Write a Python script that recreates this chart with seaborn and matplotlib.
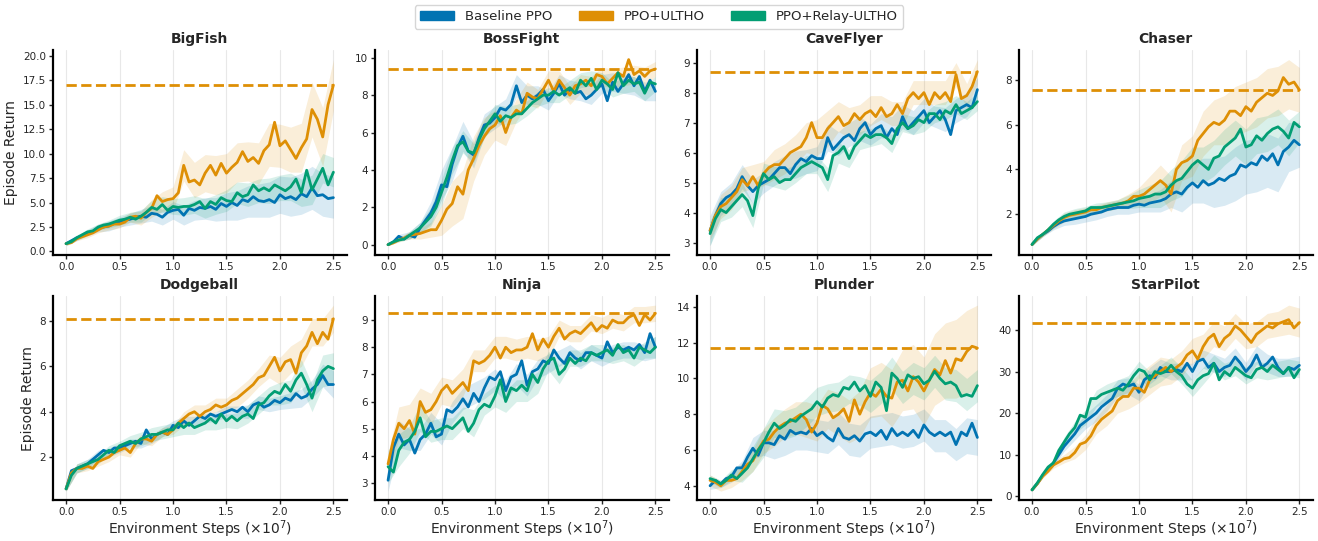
import numpy as np
import matplotlib
matplotlib.use("Agg")
import matplotlib.pyplot as plt
from matplotlib.patches import Patch
import seaborn as sns

# x grid (x1e7 env steps) for the mean curves, and a coarser one for the std bands
steps = np.round(np.arange(0, 2.5001, 0.05), 2)
band_steps = steps[::2]

games = ["BigFish", "BossFight", "CaveFlyer", "Chaser",
         "Dodgeball", "Ninja", "Plunder", "StarPilot"]
methods = ["Baseline PPO", "PPO+ULTHO", "PPO+Relay-ULTHO"]

# ---- BigFish
bigfish_ppo = [0.8, 1.1, 1.4, 1.6, 1.9, 2.0, 2.4, 2.5, 2.6, 2.9, 3.0, 3.2, 3.3, 3.5, 3.6, 3.5, 3.9, 3.8, 3.5, 4.0,
               4.2, 4.3, 3.7, 4.4, 4.2, 4.5, 4.4, 4.6, 4.3, 4.9, 4.6, 5.0, 4.7, 5.3, 5.1, 5.6, 5.2, 5.1, 5.3, 5.0,
               5.8, 5.4, 5.6, 5.3, 5.9, 5.6, 6.5, 5.7, 5.8, 5.4, 5.5]
bigfish_ultho = [0.8, 0.9, 1.3, 1.5, 1.7, 1.9, 2.2, 2.5, 2.6, 2.8, 2.8, 3.0, 3.5, 3.6, 3.4, 4.0, 4.4, 5.7, 5.1, 5.3,
                 5.4, 6.0, 8.8, 7.1, 7.3, 6.8, 8.0, 8.8, 7.8, 9.0, 8.0, 8.6, 9.1, 10.2, 9.2, 9.6, 9.0, 10.3, 10.9, 13.2,
                 10.8, 11.3, 10.4, 9.5, 10.6, 11.5, 14.5, 13.5, 11.7, 15.0, 17.0]
bigfish_relay = [0.8, 1.0, 1.4, 1.7, 2.0, 2.1, 2.5, 2.7, 2.8, 3.0, 3.2, 3.3, 3.5, 3.3, 3.6, 4.0, 4.5, 4.3, 4.8, 4.2,
                 4.6, 4.5, 4.6, 4.6, 4.8, 5.1, 4.4, 5.1, 4.8, 5.5, 5.2, 5.1, 6.0, 5.6, 5.8, 6.8, 6.2, 6.5, 6.2, 6.8,
                 6.5, 6.2, 6.6, 7.4, 6.0, 8.3, 6.3, 7.4, 8.5, 6.8, 8.1]
bigfish_ppo_sd = [0.2, 0.3, 0.3, 0.4, 0.5, 0.5, 0.6, 0.7, 0.8, 0.8, 0.9, 1.0, 1.0, 1.1, 1.2, 1.4, 1.5, 1.6, 1.7, 1.8,
                  1.9, 2.0, 2.1, 2.2, 2.2, 2.1]
bigfish_ultho_sd = [0.2, 0.2, 0.3, 0.3, 0.4, 0.4, 0.5, 0.7, 0.9, 1.0, 1.2, 1.6, 1.8, 1.9, 2.0, 2.0, 2.0, 2.0, 2.1, 2.2,
                    2.2, 2.3, 2.5, 2.8, 3.0, 2.6]
bigfish_relay_sd = [0.2, 0.2, 0.3, 0.3, 0.4, 0.5, 0.5, 0.6, 0.7, 0.8, 0.8, 0.9, 0.9, 1.0, 1.0, 1.1, 1.1, 1.2, 1.2, 1.3,
                    1.3, 1.4, 1.4, 1.5, 1.5, 1.5]

# ---- BossFight
bossfight_ppo = [0.0, 0.15, 0.45, 0.3, 0.5, 0.4, 0.9, 1.3, 1.7, 2.3, 3.2, 3.1, 4.3, 5.2, 5.8, 5.0, 4.8, 5.7, 6.4, 6.5,
                 6.8, 7.3, 7.2, 7.5, 8.5, 7.6, 8.0, 7.8, 8.0, 8.3, 7.7, 8.1, 8.6, 8.0, 8.3, 8.1, 8.2, 7.8, 8.0, 8.3,
                 8.6, 7.7, 8.7, 8.2, 8.6, 9.1, 8.5, 9.0, 8.2, 8.8, 8.2]
bossfight_ultho = [0.0, 0.1, 0.25, 0.35, 0.5, 0.55, 0.6, 0.7, 0.8, 0.8, 1.3, 1.9, 2.2, 3.1, 2.7, 4.0, 4.6, 5.3, 5.8, 6.2,
                   6.4, 6.9, 6.0, 6.8, 7.2, 7.0, 8.1, 7.9, 7.8, 8.3, 8.8, 8.2, 8.8, 8.4, 8.0, 8.5, 8.6, 8.8, 8.5, 9.1,
                   9.0, 8.6, 8.9, 9.2, 9.0, 9.9, 9.1, 9.3, 9.0, 9.3, 9.4]
bossfight_relay = [0.0, 0.15, 0.25, 0.3, 0.5, 0.7, 0.9, 1.2, 1.5, 2.0, 2.8, 3.6, 4.5, 5.3, 5.5, 5.0, 4.9, 5.6, 6.2, 6.6,
                   7.0, 6.6, 6.9, 6.8, 7.0, 7.0, 7.3, 7.6, 7.8, 8.0, 8.0, 8.2, 8.0, 8.2, 8.4, 8.1, 8.8, 8.5, 8.9, 8.3,
                   8.8, 8.6, 8.3, 9.2, 8.5, 8.8, 8.6, 8.7, 8.1, 8.7, 8.6]
bossfight_ppo_sd = [0.05, 0.1, 0.2, 0.3, 0.6, 0.8, 0.9, 0.8, 0.7, 0.6, 0.6, 0.6, 0.6, 0.5, 0.5, 0.5, 0.5, 0.5, 0.5, 0.5,
                    0.5, 0.5, 0.5, 0.5, 0.5, 0.5]
bossfight_ultho_sd = [0.05, 0.1, 0.2, 0.3, 0.4, 0.8, 1.2, 1.3, 1.2, 1.0, 0.8, 0.7, 0.6, 0.6, 0.5, 0.5, 0.5, 0.5, 0.5, 0.5,
                      0.5, 0.5, 0.5, 0.5, 0.5, 0.4]
bossfight_relay_sd = [0.05, 0.1, 0.2, 0.3, 0.5, 0.7, 0.7, 0.6, 0.5, 0.5, 0.5, 0.5, 0.5, 0.4, 0.4, 0.4, 0.4, 0.4, 0.4, 0.4,
                      0.4, 0.4, 0.4, 0.4, 0.4, 0.4]

# ---- CaveFlyer
caveflyer_ppo = [3.4, 3.9, 4.3, 4.5, 4.6, 4.8, 5.2, 4.9, 4.7, 4.9, 5.0, 5.1, 5.3, 5.5, 5.5, 5.3, 5.6, 5.8, 5.7, 5.9,
                 5.8, 5.8, 6.5, 6.1, 6.3, 6.5, 6.6, 6.4, 6.8, 7.0, 6.6, 6.8, 6.9, 6.5, 6.8, 6.6, 7.2, 6.8, 7.0, 7.2,
                 7.4, 7.0, 7.2, 7.4, 7.1, 6.6, 7.4, 7.5, 7.6, 7.5, 8.1]
caveflyer_ultho = [3.4, 3.9, 4.2, 4.3, 4.5, 4.7, 5.1, 4.9, 5.2, 4.9, 5.3, 5.5, 5.6, 5.6, 5.8, 6.0, 6.1, 6.2, 6.5, 7.0,
                   6.5, 6.5, 6.8, 7.0, 7.2, 6.9, 7.0, 7.3, 7.1, 7.3, 7.4, 7.2, 7.5, 7.2, 7.3, 7.6, 7.3, 7.8, 8.0, 7.8,
                   8.0, 7.6, 8.0, 7.8, 8.0, 7.7, 8.6, 7.8, 7.9, 8.2, 8.7]
caveflyer_relay = [3.3, 3.8, 4.1, 4.0, 4.2, 4.4, 4.6, 4.4, 3.9, 4.8, 5.3, 5.1, 5.2, 5.0, 5.1, 5.1, 5.3, 5.5, 5.6, 5.7,
                   5.6, 5.5, 5.1, 5.9, 6.0, 6.2, 5.8, 6.2, 6.4, 6.6, 6.5, 6.6, 6.6, 6.5, 6.3, 6.8, 7.0, 6.8, 6.9, 7.1,
                   7.0, 7.3, 7.3, 7.1, 7.4, 7.3, 7.6, 7.3, 7.4, 7.5, 7.7]
caveflyer_ppo_sd = [0.5, 0.4, 0.4, 0.4, 0.4, 0.35, 0.4, 0.4, 0.45, 0.4, 0.4, 0.45, 0.4, 0.4, 0.4, 0.35, 0.4, 0.4, 0.4,
                    0.4, 0.4, 0.35, 0.4, 0.4, 0.4, 0.4]
caveflyer_ultho_sd = [0.3, 0.4, 0.4, 0.4, 0.4, 0.4, 0.5, 0.5, 0.5, 0.5, 0.6, 0.6, 0.5, 0.5, 0.5, 0.5, 0.4, 0.4, 0.4,
                      0.4, 0.4, 0.4, 0.4, 0.4, 0.4, 0.4]
caveflyer_relay_sd = [0.4, 0.4, 0.35, 0.4, 0.4, 0.35, 0.35, 0.35, 0.3, 0.3, 0.3, 0.4, 0.35, 0.3, 0.3, 0.3, 0.3, 0.3,
                      0.3, 0.3, 0.3, 0.3, 0.3, 0.3, 0.3, 0.3]

# ---- Chaser
chaser_ppo = [0.65, 0.9, 1.1, 1.25, 1.45, 1.6, 1.7, 1.75, 1.8, 1.85, 1.9, 2.0, 2.05, 2.1, 2.2, 2.25, 2.3, 2.3, 2.3, 2.4,
              2.45, 2.4, 2.5, 2.55, 2.6, 2.7, 2.9, 3.0, 2.9, 3.2, 3.4, 3.2, 3.5, 3.3, 3.4, 3.6, 3.5, 3.7, 3.8, 4.2,
              4.1, 4.3, 4.2, 4.6, 4.4, 4.7, 4.2, 4.8, 5.0, 5.3, 5.1]
chaser_ultho = [0.65, 0.9, 1.1, 1.3, 1.5, 1.7, 1.85, 1.95, 2.0, 2.05, 2.1, 2.2, 2.2, 2.3, 2.35, 2.4, 2.45, 2.5, 2.6, 2.8,
                2.8, 2.9, 3.1, 3.3, 3.5, 3.3, 2.9, 4.0, 4.3, 4.4, 4.6, 5.3, 5.6, 5.9, 6.1, 6.0, 6.2, 6.6, 6.6, 6.4,
                6.8, 6.6, 7.0, 7.2, 7.4, 7.3, 7.5, 8.1, 7.8, 7.9, 7.55]
chaser_relay = [0.65, 0.95, 1.1, 1.3, 1.55, 1.75, 1.9, 2.0, 2.05, 2.1, 2.15, 2.3, 2.3, 2.3, 2.35, 2.4, 2.45, 2.5, 2.55,
                2.6, 2.7, 2.75, 2.8, 2.9, 2.9, 3.0, 3.3, 3.5, 3.6, 3.9, 4.2, 4.4, 4.2, 4.0, 4.5, 4.6, 5.0, 5.2, 5.4,
                5.8, 5.0, 5.1, 5.5, 5.3, 5.6, 5.8, 5.9, 5.7, 5.4, 6.1, 5.9]
chaser_ppo_sd = [0.05, 0.1, 0.15, 0.2, 0.25, 0.25, 0.3, 0.3, 0.3, 0.3, 0.35, 0.4, 0.5, 0.6, 0.8, 0.9, 1.0, 1.1, 1.1,
                 1.2, 1.2, 1.2, 1.2, 1.2, 1.1, 1.0]
chaser_ultho_sd = [0.05, 0.1, 0.15, 0.2, 0.2, 0.2, 0.2, 0.2, 0.2, 0.3, 0.4, 0.6, 0.7, 0.8, 0.8, 0.9, 1.0, 1.0, 1.1,
                   1.1, 1.1, 1.1, 1.1, 1.1, 1.1, 1.0]
chaser_relay_sd = [0.05, 0.1, 0.15, 0.2, 0.2, 0.2, 0.2, 0.2, 0.2, 0.3, 0.4, 0.5, 0.6, 0.7, 0.8, 0.8, 0.8, 0.8, 0.8,
                   0.8, 0.8, 0.8, 0.8, 0.8, 0.8, 0.7]

# ---- Dodgeball
dodgeball_ppo = [0.6, 1.4, 1.5, 1.6, 1.7, 1.9, 2.1, 2.3, 2.2, 2.4, 2.4, 2.5, 2.6, 2.7, 2.6, 3.2, 2.8, 3.0, 3.1, 3.0,
                 3.4, 3.3, 3.6, 3.4, 3.6, 3.8, 3.7, 3.9, 3.8, 3.9, 4.0, 4.1, 4.0, 4.2, 4.0, 4.3, 4.4, 4.2, 4.3, 4.5,
                 4.4, 4.6, 4.5, 4.8, 4.6, 4.7, 5.0, 5.2, 5.6, 5.2, 5.2]
dodgeball_ultho = [0.6, 1.3, 1.5, 1.5, 1.6, 1.5, 1.8, 1.9, 2.0, 2.2, 2.3, 2.4, 2.2, 2.6, 2.8, 2.8, 2.7, 3.0, 3.1, 3.0,
                   3.2, 3.5, 3.7, 3.9, 4.0, 3.8, 4.0, 4.1, 4.3, 4.2, 4.3, 4.5, 4.6, 4.8, 5.0, 5.2, 5.5, 5.6, 6.0, 6.4,
                   5.8, 6.2, 6.3, 5.7, 6.6, 6.9, 7.5, 7.0, 7.5, 7.2, 8.1]
dodgeball_relay = [0.6, 1.2, 1.5, 1.6, 1.7, 1.8, 1.9, 2.1, 2.3, 2.2, 2.5, 2.6, 2.7, 2.6, 2.8, 2.9, 3.0, 3.0, 3.1, 3.2,
                   3.2, 3.5, 3.3, 3.5, 3.3, 3.4, 3.5, 3.7, 3.5, 3.9, 3.6, 3.8, 3.6, 3.8, 3.9, 3.7, 4.3, 4.4, 4.7, 4.9,
                   4.8, 5.2, 4.9, 5.4, 5.7, 5.2, 4.6, 5.4, 5.8, 6.0, 5.9]
dodgeball_ppo_sd = [0.1, 0.2, 0.2, 0.2, 0.2, 0.2, 0.2, 0.2, 0.2, 0.2, 0.2, 0.2, 0.2, 0.2, 0.2, 0.25, 0.25, 0.3, 0.3,
                    0.3, 0.3, 0.35, 0.4, 0.4, 0.5, 0.6]
dodgeball_ultho_sd = [0.1, 0.2, 0.2, 0.2, 0.2, 0.2, 0.2, 0.2, 0.2, 0.2, 0.2, 0.3, 0.3, 0.3, 0.3, 0.3, 0.4, 0.4, 0.4,
                      0.5, 0.6, 0.6, 0.6, 0.6, 0.6, 0.6]
dodgeball_relay_sd = [0.1, 0.2, 0.2, 0.2, 0.2, 0.2, 0.25, 0.3, 0.3, 0.3, 0.3, 0.3, 0.3, 0.3, 0.3, 0.3, 0.35, 0.4, 0.4,
                      0.4, 0.5, 0.5, 0.6, 0.6, 0.7, 0.7]

# ---- Ninja
ninja_ppo = [3.1, 4.3, 4.8, 4.4, 4.6, 4.1, 4.6, 4.8, 5.2, 4.7, 4.8, 5.7, 5.6, 5.8, 6.1, 5.8, 6.3, 6.0, 6.5, 6.9,
             6.8, 7.1, 6.4, 6.9, 7.0, 7.5, 6.6, 7.1, 7.2, 7.5, 7.4, 7.9, 7.6, 7.4, 7.8, 7.6, 7.5, 7.8, 7.8, 7.7,
             7.6, 8.2, 7.8, 8.0, 7.9, 8.0, 7.9, 8.1, 7.8, 8.5, 8.0]
ninja_ultho = [3.7, 4.6, 5.2, 5.0, 5.3, 4.8, 6.0, 5.6, 5.7, 6.0, 6.4, 6.6, 6.3, 6.5, 6.7, 6.4, 7.5, 7.4, 7.5, 7.7,
               8.0, 7.6, 8.0, 7.8, 7.9, 7.9, 8.0, 8.5, 7.9, 8.3, 8.0, 8.4, 8.7, 8.3, 8.5, 8.6, 8.5, 8.7, 8.9, 8.6,
               8.8, 8.7, 9.0, 8.9, 8.9, 9.1, 9.2, 8.8, 9.2, 9.0, 9.25]
ninja_relay = [3.6, 3.4, 4.2, 4.5, 4.6, 4.9, 5.4, 4.7, 4.9, 4.9, 5.0, 5.1, 5.0, 5.2, 5.4, 4.9, 5.2, 5.7, 5.9, 5.8,
               6.2, 6.8, 6.0, 6.5, 6.4, 6.6, 6.4, 7.0, 6.7, 7.2, 7.5, 7.6, 7.0, 7.2, 7.6, 7.4, 7.6, 7.5, 7.8, 7.7,
               7.8, 7.9, 7.7, 8.1, 7.8, 7.9, 7.6, 8.0, 7.9, 7.8, 8.0]
ninja_ppo_sd = [0.4, 0.5, 0.4, 0.4, 0.4, 0.4, 0.4, 0.4, 0.4, 0.4, 0.4, 0.4, 0.4, 0.4, 0.35, 0.35, 0.3, 0.3, 0.3, 0.3,
                0.3, 0.3, 0.3, 0.3, 0.3, 0.4]
ninja_ultho_sd = [0.4, 0.6, 0.6, 0.5, 0.6, 0.5, 0.5, 0.5, 0.4, 0.4, 0.4, 0.4, 0.4, 0.4, 0.4, 0.4, 0.3, 0.3, 0.3, 0.3,
                  0.3, 0.3, 0.3, 0.3, 0.3, 0.3]
ninja_relay_sd = [0.6, 0.6, 0.5, 0.5, 0.4, 0.4, 0.4, 0.4, 0.5, 0.4, 0.4, 0.4, 0.4, 0.4, 0.4, 0.35, 0.35, 0.3, 0.3,
                  0.3, 0.3, 0.3, 0.3, 0.3, 0.3, 0.4]

# ---- Plunder
plunder_ppo = [4.0, 4.3, 4.1, 4.4, 4.5, 5.0, 5.0, 5.6, 6.1, 5.7, 6.4, 6.4, 6.3, 6.8, 6.6, 7.1, 6.9, 7.0, 6.9, 7.2,
               6.8, 7.0, 6.7, 6.5, 7.2, 6.7, 6.6, 6.8, 6.5, 6.9, 7.0, 6.8, 7.1, 6.6, 7.2, 6.8, 7.0, 6.8, 7.1, 6.7,
               7.4, 7.0, 6.8, 7.0, 6.8, 7.0, 6.3, 7.0, 6.8, 7.5, 6.7]
plunder_ultho = [4.3, 4.2, 4.0, 4.3, 4.3, 4.4, 4.8, 5.2, 5.4, 6.0, 6.5, 6.6, 7.0, 7.3, 7.5, 7.6, 7.8, 8.0, 7.7, 7.0,
                 7.5, 8.5, 8.3, 7.8, 8.0, 8.3, 7.6, 8.8, 8.0, 8.7, 9.2, 9.0, 9.4, 9.0, 8.9, 9.8, 9.9, 9.3, 10.1, 9.8,
                 9.3, 9.9, 10.5, 10.2, 11.0, 10.3, 11.1, 11.0, 11.5, 11.8, 11.7]
plunder_relay = [4.4, 4.3, 4.1, 4.3, 4.6, 4.4, 4.7, 5.0, 5.5, 6.0, 6.4, 7.0, 7.5, 7.2, 7.4, 7.7, 7.6, 7.9, 8.1, 8.3,
                 8.7, 8.4, 8.9, 9.1, 9.0, 9.5, 9.4, 9.8, 9.3, 9.6, 9.0, 9.8, 9.5, 8.2, 10.3, 10.0, 9.5, 10.2, 10.0, 10.1,
                 9.7, 9.9, 10.4, 10.0, 9.7, 9.8, 9.6, 9.0, 9.1, 9.0, 9.6]
plunder_ppo_sd = [0.2, 0.2, 0.3, 0.4, 0.6, 0.7, 0.8, 0.9, 0.9, 0.9, 0.9, 0.9, 0.9, 0.9, 0.9, 0.9, 0.9, 0.9, 0.9, 0.9,
                  0.9, 0.9, 0.9, 0.9, 1.0, 1.0]
plunder_ultho_sd = [0.3, 0.3, 0.4, 0.5, 0.6, 0.7, 0.8, 0.8, 0.9, 1.0, 1.0, 1.1, 1.2, 1.2, 1.3, 1.4, 1.5, 1.6, 1.7, 1.8,
                    1.9, 2.0, 2.1, 2.2, 2.3, 2.4]
plunder_relay_sd = [0.2, 0.2, 0.3, 0.5, 0.7, 0.8, 0.8, 0.8, 0.8, 0.8, 0.8, 0.8, 0.8, 0.8, 0.8, 0.9, 0.9, 0.9, 0.9,
                    0.9, 0.9, 0.9, 0.9, 0.9, 0.9, 0.9]

# ---- StarPilot
starpilot_ppo = [1.5, 3.0, 5.0, 6.5, 8.0, 10.0, 12.0, 13.5, 15.0, 17.0, 18.0, 19.0, 20.0, 21.5, 22.5, 23.5, 26.0, 27.0,
                 26.5, 27.0, 25.0, 28.0, 29.0, 28.5, 31.0, 30.0, 30.0, 30.5, 30.0, 32.0, 30.0, 32.5, 33.0, 31.0, 32.0,
                 30.0, 31.0, 31.5, 33.5, 32.0, 30.0, 31.5, 34.0, 31.0, 32.0, 33.5, 31.0, 29.5, 31.0, 30.5, 31.5]
starpilot_ultho = [1.5, 3.0, 4.8, 6.0, 7.5, 8.2, 9.0, 9.3, 10.5, 12.5, 13.0, 14.5, 17.0, 18.5, 19.5, 20.5, 23.0, 24.0,
                   24.0, 26.0, 26.0, 25.0, 28.0, 29.0, 30.0, 31.0, 30.0, 31.0, 32.0, 34.0, 35.0, 33.0, 36.0, 38.0, 39.0,
                   36.0, 38.0, 39.0, 41.0, 40.0, 38.5, 37.0, 39.0, 40.0, 41.0, 40.5, 41.5, 42.0, 42.5, 40.5, 41.8]
starpilot_relay = [1.5, 3.2, 5.2, 7.0, 8.0, 11.0, 13.0, 15.0, 16.5, 19.5, 19.0, 23.5, 23.5, 24.5, 25.0, 25.5, 26.0, 25.5,
                   27.0, 29.0, 30.5, 30.0, 28.0, 30.0, 29.5, 30.0, 31.5, 30.0, 29.0, 27.0, 26.0, 28.0, 29.0, 29.5, 32.0,
                   28.0, 30.0, 29.0, 31.0, 30.0, 29.0, 28.5, 30.5, 31.0, 30.0, 31.5, 30.5, 29.5, 31.0, 28.5, 30.5]
starpilot_ppo_sd = [0.3, 0.5, 0.8, 1.2, 1.5, 1.8, 2.0, 2.0, 2.0, 2.0, 2.0, 2.0, 2.0, 2.0, 2.0, 2.0, 2.2, 2.2, 2.2, 2.2,
                    2.2, 2.2, 2.2, 2.2, 2.2, 2.2]
starpilot_ultho_sd = [0.3, 0.5, 0.8, 1.0, 1.5, 1.8, 2.0, 2.5, 3.0, 3.0, 3.5, 3.5, 3.5, 3.0, 3.0, 3.0, 3.0, 3.0, 3.0,
                      3.0, 3.0, 3.0, 3.0, 3.0, 3.5, 3.5]
starpilot_relay_sd = [0.3, 0.5, 0.8, 1.2, 1.5, 1.8, 2.0, 2.0, 2.0, 2.0, 2.0, 2.0, 2.0, 2.0, 2.0, 2.0, 2.0, 2.0, 2.0,
                      2.0, 2.0, 2.0, 2.0, 2.0, 2.0, 2.0]

panels = [
    (bigfish_ppo, bigfish_ultho, bigfish_relay, bigfish_ppo_sd, bigfish_ultho_sd, bigfish_relay_sd),
    (bossfight_ppo, bossfight_ultho, bossfight_relay, bossfight_ppo_sd, bossfight_ultho_sd, bossfight_relay_sd),
    (caveflyer_ppo, caveflyer_ultho, caveflyer_relay, caveflyer_ppo_sd, caveflyer_ultho_sd, caveflyer_relay_sd),
    (chaser_ppo, chaser_ultho, chaser_relay, chaser_ppo_sd, chaser_ultho_sd, chaser_relay_sd),
    (dodgeball_ppo, dodgeball_ultho, dodgeball_relay, dodgeball_ppo_sd, dodgeball_ultho_sd, dodgeball_relay_sd),
    (ninja_ppo, ninja_ultho, ninja_relay, ninja_ppo_sd, ninja_ultho_sd, ninja_relay_sd),
    (plunder_ppo, plunder_ultho, plunder_relay, plunder_ppo_sd, plunder_ultho_sd, plunder_relay_sd),
    (starpilot_ppo, starpilot_ultho, starpilot_relay, starpilot_ppo_sd, starpilot_ultho_sd, starpilot_relay_sd),
]

colors = sns.color_palette("colorblind")[:3]   # blue, orange, green

sns.set_style("white")
plt.rcParams["font.family"] = ["DejaVu Sans"]

fig, axes = plt.subplots(2, 4, figsize=(13.18, 5.41), dpi=100)
fig.subplots_adjust(left=0.04, right=0.996, top=0.907, bottom=0.075, wspace=0.095, hspace=0.2)

for i, (ax, game, data) in enumerate(zip(axes.flat, games, panels)):
    means = data[:3]
    sds = data[3:]
    for m, sd, c in zip(means, sds, colors):
        m = np.asarray(m)
        sd = np.asarray(sd)
        ax.fill_between(band_steps, m[::2] - sd, m[::2] + sd, color=c, alpha=0.15, lw=0)
    for m, c in zip(means, colors):
        sns.lineplot(x=steps, y=m, color=c, lw=2, ax=ax)
    # dashed reference at the final ULTHO score
    ax.hlines(means[1][-1], steps[0], steps[-1], colors=[colors[1]], linestyles="--", lw=2, zorder=4)

    ax.set_title(game, fontsize=10, fontweight="bold", pad=5)
    ax.set_xticks([0, 0.5, 1.0, 1.5, 2.0, 2.5])
    ax.grid(axis="x", color="#e8e8e8", lw=0.8)
    ax.set_axisbelow(True)
    ax.tick_params(labelsize=7.5, length=3, width=1, left=True, bottom=True, pad=2)
    for s in ["top", "right"]:
        ax.spines[s].set_visible(False)
    for s in ["left", "bottom"]:
        ax.spines[s].set_color("black")
        ax.spines[s].set_linewidth(1.6)
    ax.set_ylabel("Episode Return" if i % 4 == 0 else "", fontsize=10, labelpad=3)
    ax.set_xlabel("Environment Steps ($\\times10^7$)" if i >= 4 else "", fontsize=10, labelpad=0.5)

axes[0, 0].set_yticks(np.arange(0, 20.1, 2.5))
axes[0, 0].yaxis.set_major_formatter(matplotlib.ticker.FormatStrFormatter("%.1f"))

handles = [Patch(color=c, label=l) for c, l in zip(colors, methods)]
fig.legend(handles=handles, loc="upper center", bbox_to_anchor=(0.5, 1.003), ncol=3,
           fontsize=9.5, frameon=True, handlelength=2.6, columnspacing=2.0)

fig.savefig("out.png", dpi=100)
